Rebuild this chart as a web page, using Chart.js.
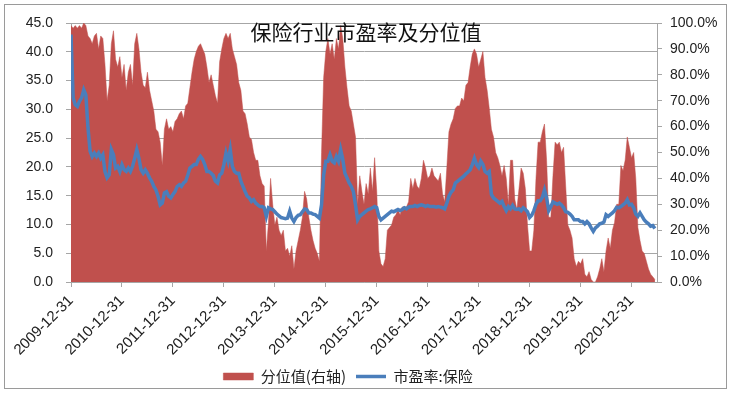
<!DOCTYPE html>
<html>
<head>
<meta charset="utf-8">
<script src="https://cdn.jsdelivr.net/npm/chart.js@4.4.1/dist/chart.umd.min.js"></script>
<style>
  html, body { margin: 0; padding: 0; background: #fff; }
  #wrap { position: relative; width: 730px; height: 394px; }
  #frame { position: absolute; left: 4px; top: 4px; width: 721px; height: 383px; border: 1px solid #9a9a9a; pointer-events: none; }
  canvas { position: absolute; left: 0; top: 0; }
</style>
</head>
<body>
<div id="wrap">
  <canvas id="peChart" width="730" height="394"></canvas>
  <div id="frame"></div>
</div>
<script>
// semi-monthly samples starting 2009-12-31
const SAMPLES_PER_YEAR = 24;
const titleText = '保险行业市盈率及分位值';
const tickLabels = ['2009-12-31', '2010-12-31', '2011-12-31', '2012-12-31', '2013-12-31', '2014-12-31',
    '2015-12-31', '2016-12-31', '2017-12-31', '2018-12-31', '2019-12-31', '2020-12-31'];

// 分位值 (%), right axis
const percentile = [
    99, 98, 99, 98, 99, 98, 100, 99, 95, 94, 92, 95, 96, 90, 95, 94, 84, 70, 76, 92, 97, 86, 83, 87,
    79, 84, 74, 81, 84, 76, 92, 96, 90, 81, 76, 75, 81, 74, 70, 66, 59, 58, 54, 45, 59, 63, 59, 60,
    58, 62, 63, 65, 66, 63, 68, 69, 75, 81, 86, 89, 91, 92, 90, 88, 83, 77, 80, 76, 72, 69, 85, 90,
    94, 96, 94, 96, 90, 87, 84, 77, 74, 66, 65, 61, 56, 55, 50, 47, 47, 41, 38, 37, 12, 23, 40, 30,
    22, 25, 20, 18, 20, 12, 13, 10, 14, 5, 12, 16, 20, 25, 35, 32, 25, 20, 16, 13, 11, 8, 50, 79,
    89, 94, 88, 92, 86, 94, 90, 99, 94, 83, 75, 68, 66, 61, 56, 30, 41, 35, 30, 38, 34, 44, 35, 48,
    35, 12, 7, 6, 9, 20, 21, 22, 25, 26, 28, 26, 29, 29, 29, 31, 40, 36, 40, 37, 36, 40, 47, 44,
    40, 41, 44, 41, 40, 39, 42, 34, 31, 44, 58, 61, 63, 67, 68, 68, 71, 70, 76, 77, 83, 88, 90, 88,
    83, 86, 89, 79, 74, 67, 59, 56, 50, 48, 45, 41, 45, 40, 30, 47, 47, 32, 28, 36, 44, 42, 36, 22,
    12, 12, 20, 40, 54, 54, 58, 61, 47, 25, 25, 41, 54, 53, 54, 50, 52, 37, 22, 20, 17, 9, 6, 8,
    7, 9, 3, 2, 4, 1, 0, 0, 2, 5, 9, 4, 12, 17, 13, 20, 23, 30, 30, 45, 43, 47, 56, 52,
    48, 50, 40, 21, 16, 12, 11, 8, 5, 3, 2, 1
];

// 市盈率:保险, left axis
const peRatio = [
    43, 32, 30.8, 30.5, 31.4, 32, 33.4, 32.5, 26.8, 22.7, 21.8, 22.4, 21.8, 22.4, 21.5, 22.1, 19.2, 18.1, 18.6, 23, 22.1, 19.8, 20.1, 19.2,
    20.4, 19.5, 19.2, 19.8, 19.2, 20.1, 21.5, 23, 21.5, 19.5, 18.9, 19.5, 18.9, 18.1, 17.5, 16.6, 16, 14.9, 13.4, 13.7, 15.5, 15.7, 14.9, 14.6,
    15.2, 15.7, 16.6, 16.9, 16.6, 17.2, 17.5, 18.6, 19.8, 20.1, 20.4, 20.4, 21.3, 21.8, 21.3, 20.4, 19.2, 19.2, 18.9, 18.5, 17.5, 17.2, 18.6, 18.9,
    20.4, 22.4, 21, 23, 20.1, 19.2, 18.9, 18.9, 17.5, 16.6, 15.7, 14.9, 14.6, 14, 14.3, 13.7, 13.4, 13.1, 13.1, 12.9, 11.4, 12.9, 12.7, 12.6,
    12.2, 11.8, 11.5, 11.2, 11.1, 11, 11.1, 12.3, 11.1, 10.5, 11.2, 11.6, 11.7, 12.2, 12.7, 12.6, 12, 12, 11.8, 11.7, 11.4, 11.1, 13.4, 18.6,
    21, 21, 22.1, 21, 20.7, 21.8, 21, 23, 21.3, 18.9, 18.1, 17.2, 16.6, 15.7, 13.4, 10.8, 11.4, 11.7, 12, 12.3, 12.6, 12.7, 12.9, 13.1,
    12.9, 11.4, 10.8, 11.1, 11.4, 11.7, 12, 12.3, 12.2, 12.4, 12.6, 12.4, 12.6, 12.9, 12.7, 13, 13.1, 13.1, 13.3, 13.1, 13.3, 13.4, 13.3, 13.1,
    13.3, 13.1, 13.1, 13.1, 13, 13.1, 13, 12.9, 12.7, 13.7, 14.9, 15.6, 16, 17.2, 17.5, 17.8, 18.1, 18.4, 18.8, 19.1, 19.5, 20.4, 21.5, 20.4,
    19.9, 21, 20.4, 19.2, 18.9, 19.2, 15.2, 14.6, 14.3, 14, 13.7, 14, 13.1, 12.4, 13.1, 12.7, 13.3, 12.7, 12.6, 12.7, 12.4, 12.9, 12.6, 12.2,
    11.2, 11.6, 12.4, 13.5, 14.1, 14.1, 14.7, 16, 14.6, 12.4, 13.1, 13.9, 13.7, 13.5, 13.7, 13.4, 12.9, 12.2, 12.1, 11.8, 11.4, 10.8, 10.8, 10.8,
    10.5, 10.5, 10.1, 10.5, 10.1, 9.4, 8.8, 9.4, 9.7, 10.1, 10.2, 10.4, 11.7, 11.4, 11.7, 12, 12.4, 13, 12.9, 13.1, 13.4, 13.7, 14.3, 13.4,
    13.5, 12.9, 11.8, 11.4, 12, 11.4, 10.8, 10.4, 10.1, 9.7, 9.8, 9.3
];

const toPoints = arr => arr.map((v, i) => ({ x: i / SAMPLES_PER_YEAR, y: v }));

const GRID = '#a6a6a6';
const TEXT = '#222222';

Chart.defaults.font.family = '"Liberation Sans", Arial, sans-serif';
Chart.defaults.font.size = 14;
Chart.defaults.color = TEXT;

// title sits inside the plot, over the area
const overlayTitle = {
    id: 'overlayTitle',
    afterDraw(chart) {
        const ctx = chart.ctx;
        ctx.save();
        ctx.font = '21px "Noto Sans CJK SC"';
        ctx.fillStyle = '#111';
        ctx.textAlign = 'center';
        ctx.textBaseline = 'middle';
        ctx.fillText(titleText, 366, 32);
        ctx.restore();
    }
};

// excel centres the legend a bit left of the canvas middle
const legendShift = {
    id: 'legendShift',
    afterLayout(chart) {
        if (chart.legend) {
            chart.legend.left -= 17;
            chart.legend.right -= 17;
        }
    }
};

new Chart(document.getElementById('peChart'), {
    type: 'line',
    data: {
        datasets: [
            {
                label: '分位值(右轴)',
                data: toPoints(percentile),
                yAxisID: 'y1',
                order: 2,
                fill: 'origin',
                backgroundColor: '#C0504D',
                borderColor: '#C0504D',
                borderWidth: 0.5,
                pointRadius: 0,
                pointStyle: 'rect',
                tension: 0
            },
            {
                label: '市盈率:保险',
                data: toPoints(peRatio),
                yAxisID: 'y',
                order: 1,
                fill: false,
                borderColor: '#4A7EBB',
                backgroundColor: '#4A7EBB',
                borderWidth: 3.5,
                pointRadius: 0,
                pointStyle: 'line',
                tension: 0
            }
        ]
    },
    options: {
        responsive: false,
        animation: false,
        layout: { padding: { top: 23, right: 0, left: 0, bottom: 0 } },
        plugins: {
            legend: {
                position: 'bottom',
                labels: {
                    usePointStyle: true,
                    pointStyleWidth: 30,
                    boxHeight: 7,
                    padding: 10,
                    color: TEXT,
                    font: { size: 15, family: '"Noto Sans CJK SC"' },
                    sort: (a, b) => a.datasetIndex - b.datasetIndex
                }
            },
            tooltip: { enabled: false }
        },
        scales: {
            x: {
                type: 'linear',
                min: 0,
                max: 11.5,
                afterFit: s => { s.height = 77; },
                grid: { drawOnChartArea: false, tickLength: 5, color: GRID },
                border: { color: GRID },
                ticks: {
                    stepSize: 1,
                    includeBounds: false,
                    autoSkip: false,
                    maxRotation: 45,
                    minRotation: 45,
                    padding: 5,
                    font: { size: 15 },
                    callback: v => tickLabels[v] || ''
                }
            },
            y: {
                position: 'left',
                min: 0,
                max: 45,
                afterFit: s => { s.width = 71; },
                grid: { color: GRID, tickLength: 5 },
                border: { color: GRID },
                ticks: { stepSize: 5, padding: 13, callback: v => v.toFixed(1) }
            },
            y1: {
                position: 'right',
                min: 0,
                max: 100,
                afterFit: s => { s.width = 73; },
                grid: { drawOnChartArea: false, tickLength: 5, color: GRID },
                border: { color: GRID },
                ticks: { stepSize: 10, padding: 8, callback: v => v.toFixed(1) + '%' }
            }
        }
    },
    plugins: [overlayTitle, legendShift]
});
</script>
</body>
</html>
